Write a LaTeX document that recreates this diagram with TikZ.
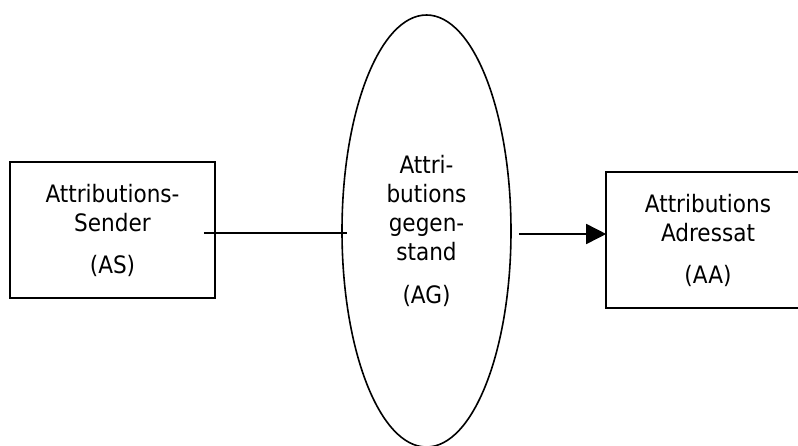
\documentclass[tikz,border=0pt]{standalone}
\usepackage{fontspec}
\setmainfont{DejaVu Sans Condensed}
\usetikzlibrary{shapes.geometric,arrows.meta}
\begin{document}
\begin{tikzpicture}[x=1pt,y=-1pt,line width=1.6pt,
  font=\fontsize{24}{29}\selectfont,
  boxnode/.style={draw,rectangle,minimum width=205pt,minimum height=136pt,inner sep=0pt,align=center},
  ellnode/.style={draw,ellipse,minimum width=169pt,minimum height=432pt,inner sep=0pt,align=center},
  conn/.style={line width=1.6pt}]
\useasboundingbox (0,0) rectangle (798,445);
\clip (0,0) rectangle (798,445);
\node[boxnode] (as) at (112.5,230) {Attributions-\\Sender\\[13pt](AS)};
\node[boxnode,minimum width=204pt] (aa) at (708,240) {Attributions\\Adressat\\[13pt](AA)};
\node[ellnode] (ag) at (426.5,231) {Attri-\\butions\\gegen-\\stand\\[14pt](AG)};
\draw[conn] ([xshift=-12pt,yshift=-3pt]as.east) -- ([xshift=5.5pt,yshift=-2pt]ag.west);
\draw[conn,-{Triangle[length=20pt,width=20pt]}] ([xshift=7pt,yshift=-3pt]ag.east) -- ([xshift=1pt,yshift=6pt]aa.west);
\end{tikzpicture}
\end{document}
